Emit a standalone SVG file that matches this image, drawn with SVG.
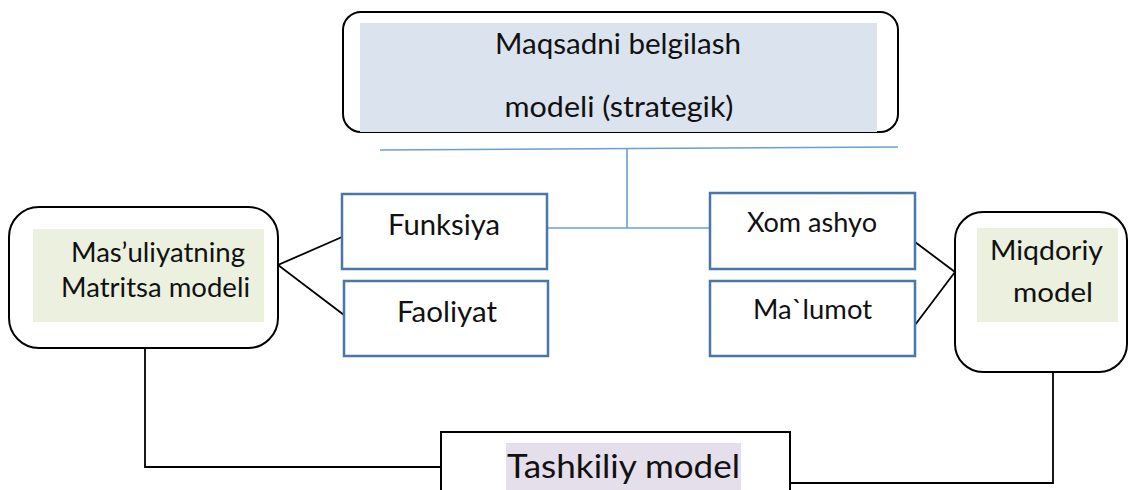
<svg xmlns="http://www.w3.org/2000/svg" width="1130" height="490" viewBox="0 0 1130 490">
<style>
text{font-family:Lato,"Open Sans","Liberation Sans",sans-serif;fill:#111;}
.rb{fill:#fff;stroke:#000;stroke-width:2;}
.bb{fill:#fff;stroke:#4a76a8;stroke-width:2.5;}
.bl{fill:none;stroke:#6a9fd4;stroke-width:1.6;}
.kl{fill:none;stroke:#000;stroke-width:1.8;}
</style>
<rect width="1130" height="490" fill="#fff"/>
<g id="connectors">
<polyline class="bl" points="380,150 898,147"/>
<polyline class="bl" points="627,149 627,228"/>
<polyline class="bl" points="547,228 710,228"/>
<polyline class="kl" points="342,237 278,265 344,315"/>
<polyline class="kl" points="915,242 955,272 915,325"/>
<polyline class="kl" points="145,348 145,467 441,467"/>
<polyline class="kl" points="1053,372 1053,483 790,483"/>
</g>
<g id="top">
<rect class="rb" x="343" y="12" width="555" height="120" rx="18"/>
<rect x="360" y="23" width="517" height="109" fill="#dbe3ef"/>
<text x="618" y="54" font-size="28" text-anchor="middle" textLength="246" lengthAdjust="spacingAndGlyphs">Maqsadni belgilash</text>
<text x="619" y="117" font-size="28" text-anchor="middle" textLength="229" lengthAdjust="spacingAndGlyphs">modeli (strategik)</text>
</g>
<g id="left">
<rect class="rb" x="9" y="207" width="269" height="141" rx="30"/>
<rect x="33" y="229" width="231" height="93" fill="#ebf0df"/>
<text x="158" y="262" font-size="27" text-anchor="middle" textLength="174" lengthAdjust="spacingAndGlyphs">Mas’uliyatning</text>
<text x="155.5" y="297" font-size="27" text-anchor="middle" textLength="189" lengthAdjust="spacingAndGlyphs">Matritsa modeli</text>
</g>
<g id="funksiya">
<rect class="bb" x="342" y="194" width="205" height="75"/>
<text x="444" y="235" font-size="28" text-anchor="middle" textLength="112" lengthAdjust="spacingAndGlyphs">Funksiya</text>
</g>
<g id="faoliyat">
<rect class="bb" x="344" y="281" width="204" height="75"/>
<text x="447" y="322" font-size="28" text-anchor="middle" textLength="100" lengthAdjust="spacingAndGlyphs">Faoliyat</text>
</g>
<g id="xom">
<rect class="bb" x="710" y="193" width="205" height="76"/>
<text x="812" y="232" font-size="26" text-anchor="middle" textLength="130" lengthAdjust="spacingAndGlyphs">Xom ashyo</text>
</g>
<g id="malumot">
<rect class="bb" x="710" y="281" width="205" height="75"/>
<text x="812.5" y="319" font-size="26" text-anchor="middle" textLength="119" lengthAdjust="spacingAndGlyphs">Ma`lumot</text>
</g>
<g id="miqdoriy">
<rect class="rb" x="955" y="212" width="172" height="160" rx="28"/>
<rect x="977" y="228" width="141" height="94" fill="#ebf0df"/>
<text x="1046.5" y="260" font-size="27" text-anchor="middle" textLength="113" lengthAdjust="spacingAndGlyphs">Miqdoriy</text>
<text x="1053" y="302" font-size="27" text-anchor="middle" textLength="80" lengthAdjust="spacingAndGlyphs">model</text>
</g>
<g id="tashkiliy">
<rect class="rb" x="441" y="432" width="349" height="70" stroke-width="1.6"/>
<rect x="506" y="443" width="235" height="50" fill="#e5dfec"/>
<text x="623.5" y="478" font-size="32" text-anchor="middle" textLength="233" lengthAdjust="spacingAndGlyphs">Tashkiliy model</text>
</g>
</svg>
